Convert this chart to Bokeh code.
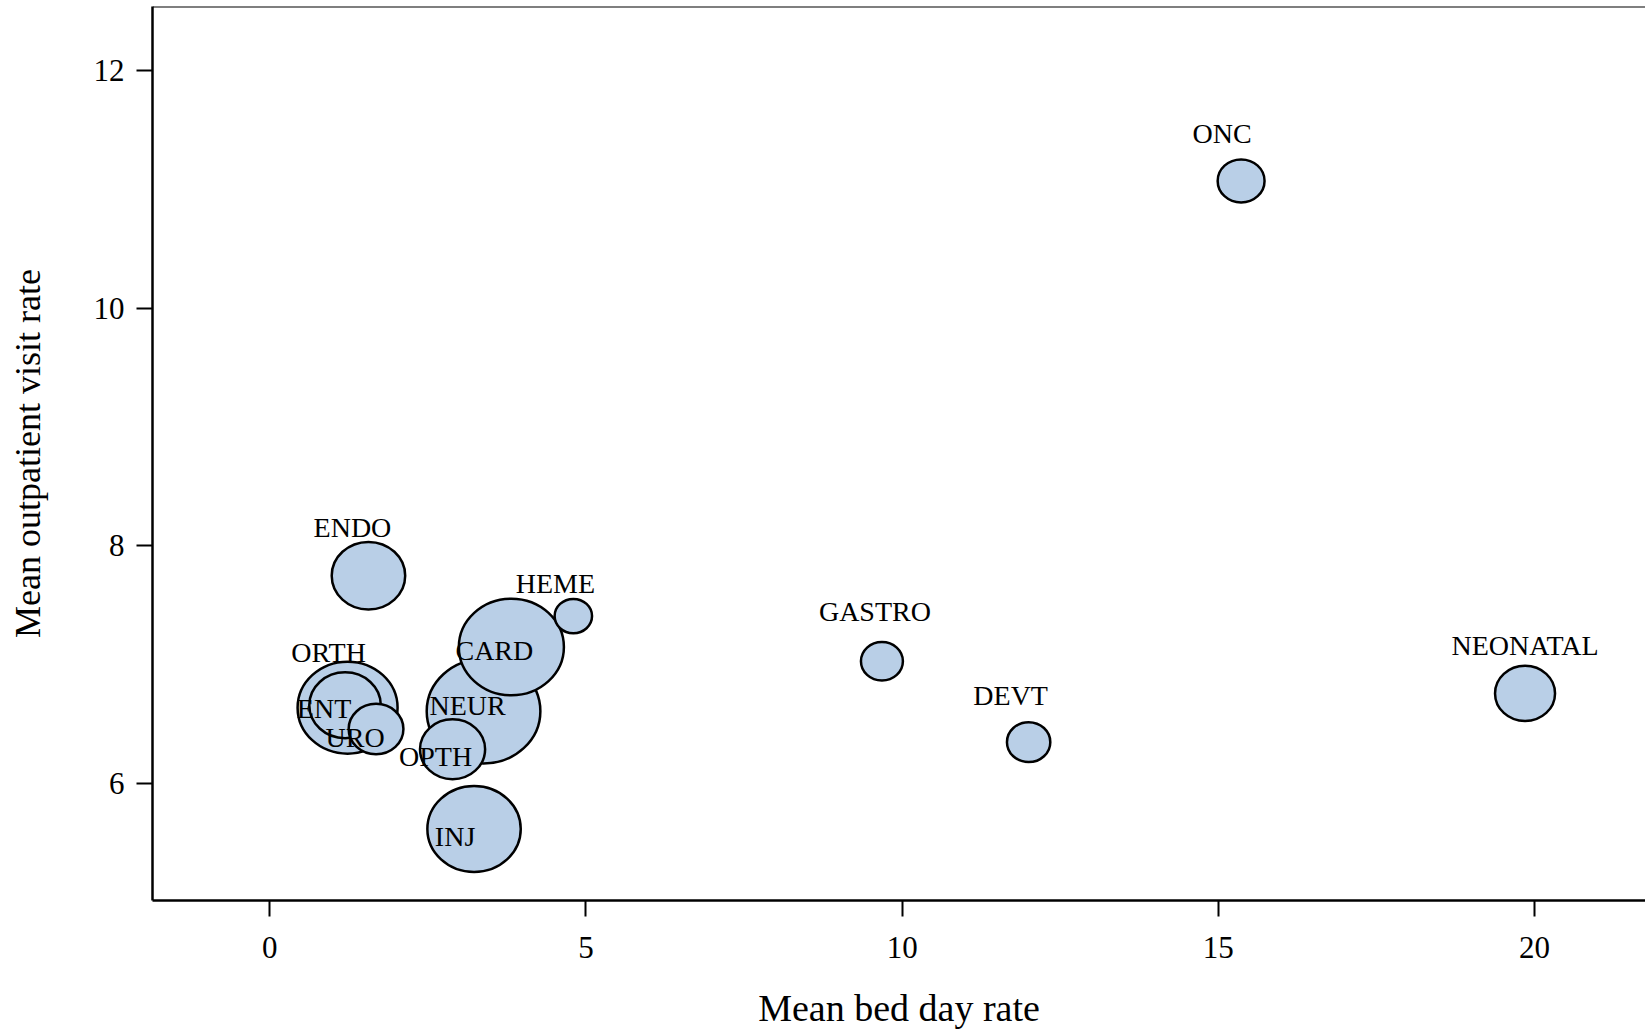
from bokeh.plotting import figure
from bokeh.models import ColumnDataSource, Span, FixedTicker
from bokeh.core.properties import value
from bokeh.embed import file_html
from bokeh.resources import INLINE
import numpy as np

# Specialty summary: mean bed-day rate, mean outpatient visit rate, relative weight
specialty = ["NEUR", "CARD", "ORTH", "INJ", "ENDO", "ENT", "OPTH", "NEONATAL",
             "URO", "ONC", "DEVT", "GASTRO", "HEME"]
bed_day_rate = [3.38, 3.82, 1.23, 3.23, 1.56, 1.19, 2.89, 19.85,
                1.68, 15.36, 12.00, 9.68, 4.80]
visit_rate = [6.61, 7.15, 6.64, 5.62, 7.75, 6.66, 6.29, 6.76,
              6.46, 11.07, 6.35, 7.03, 7.41]
weight = [32.3, 27.6, 25.0, 21.8, 13.5, 12.8, 10.6, 9.0,
          7.5, 5.5, 4.7, 4.4, 3.5]

x_ticks = [0, 5, 10, 15, 20]
y_ticks = [6, 8, 10, 12]

# label placement relative to each bubble centre (screen px, +y is down)
label_offset = {
    "NEUR": (-16, -6), "CARD": (-17, 3), "ORTH": (-19, -55), "INJ": (-19, 8),
    "ENDO": (-16, -48), "ENT": (-21, 3), "OPTH": (-17, 7), "NEONATAL": (0, -48),
    "URO": (-21, 8), "ONC": (-19, -47), "DEVT": (-18, -47), "GASTRO": (-7, -50),
    "HEME": (-18, -33),
}

SERIF = "Liberation Serif"
radius = 10 * np.sqrt(np.array(weight))

src = ColumnDataSource(dict(
    x=bed_day_rate, y=visit_rate, name=specialty,
    w=2 * radius, h=2 * radius * 0.92,
    dx=[label_offset[s][0] for s in specialty],
    dy=[label_offset[s][1] for s in specialty],
))

p = figure(width=1645, height=1031,
           x_range=(-1.855, 21.755), y_range=(5.018, 12.537),
           output_backend="svg", toolbar_location=None,
           min_border_left=152, min_border_right=0,
           min_border_top=6, min_border_bottom=131)

p.outline_line_color = None
p.grid.visible = False
p.background_fill_color = "white"
p.border_fill_color = "white"

p.ellipse(x="x", y="y", width="w", height="h", width_units="screen",
          height_units="screen", source=src, fill_color="#B9CFE7",
          line_color="black", line_width=2.5)

p.text(x="x", y="y", text="name", x_offset="dx", y_offset="dy", source=src,
       text_font=value(SERIF), text_font_size="28px", text_color="black",
       text_align="center", text_baseline="middle")

# top border of the plotting area
p.add_layout(Span(location=12.537, dimension="width", line_color="black",
                  line_width=2))

for ax in (p.xaxis[0], p.yaxis[0]):
    ax.axis_line_width = 2.5
    ax.axis_line_color = "black"
    ax.major_tick_line_width = 2
    ax.major_tick_line_color = "black"
    ax.major_tick_out = 16
    ax.major_tick_in = 0
    ax.minor_tick_out = 0
    ax.minor_tick_in = 0
    ax.major_label_text_font = SERIF
    ax.major_label_text_font_size = "31px"
    ax.major_label_text_color = "black"
    ax.axis_label_text_font = SERIF
    ax.axis_label_text_font_style = "normal"
    ax.axis_label_text_color = "black"

p.xaxis.axis_label_text_font_size = "38px"
p.yaxis.axis_label_text_font_size = "36px"
p.xaxis.ticker = FixedTicker(ticks=x_ticks)
p.yaxis.ticker = FixedTicker(ticks=y_ticks)
p.xaxis.axis_label = "Mean bed day rate"
p.yaxis.axis_label = "Mean outpatient visit rate"
p.xaxis.major_label_standoff = 20
p.yaxis.major_label_standoff = 12
p.xaxis.axis_label_standoff = 26
p.yaxis.axis_label_standoff = 43

open("out.html", "w").write(file_html(p, INLINE))
